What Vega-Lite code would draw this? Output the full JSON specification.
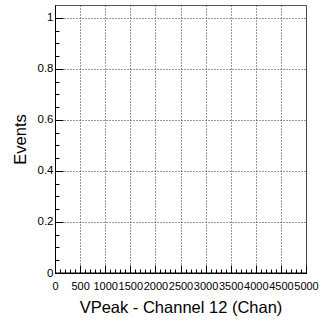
{
  "$schema": "https://vega.github.io/schema/vega-lite/v6.json",
  "width": 251,
  "height": 268,
  "autosize": {"type": "none"},
  "padding": {"left": 55, "top": 5, "right": 14, "bottom": 50},
  "background": "white",
  "config": {
    "view": {"stroke": "#555", "strokeWidth": 1},
    "axis": {
      "labelFont": "Liberation Sans",
      "titleFont": "Liberation Sans",
      "labelColor": "#000",
      "titleColor": "#000",
      "titleFontWeight": "normal",
      "domainColor": "#000",
      "tickColor": "#000",
      "labelOverlap": false,
      "labelFlush": false,
      "labelBound": false
    }
  },
  "data": {"values": [{"chan": 0, "events": 0}, {"chan": 5000, "events": 0}]},
  "layer": [
    {
      "mark": {"type": "line", "color": "#000", "strokeWidth": 1},
      "encoding": {
        "x": {
          "field": "chan", "type": "quantitative",
          "scale": {"domain": [0, 5000], "nice": false, "zero": false},
          "axis": {
            "orient": "bottom",
            "values": [0, 500, 1000, 1500, 2000, 2500, 3000, 3500, 4000, 4500, 5000],
            "format": "d",
            "tickSize": -8,
            "labelPadding": 15,
            "labelFontSize": 11,
            "grid": true, "gridDash": [1, 2], "gridColor": "#333", "gridOpacity": 1,
            "title": "VPeak - Channel 12 (Chan)",
            "titleFontSize": 16.5,
            "titleY": 34,
            "titleBaseline": "middle"
          }
        },
        "y": {
          "field": "events", "type": "quantitative",
          "scale": {"domain": [0, 1.05], "nice": false, "zero": false},
          "axis": {
            "orient": "left",
            "values": [0, 0.2, 0.4, 0.6, 0.8, 1],
            "format": "~g",
            "tickSize": -8,
            "labelPadding": 10,
            "labelFontSize": 11.5,
            "grid": true, "gridDash": [1, 2], "gridColor": "#333", "gridOpacity": 1,
            "title": "Events",
            "titleFontSize": 16.5,
            "titleX": -35,
            "titleAlign": "center",
            "titleBaseline": "middle"
          }
        }
      }
    },
    {
      "mark": {"type": "line", "opacity": 0},
      "encoding": {
        "x": {
          "field": "chan", "type": "quantitative",
          "scale": {"domain": [0, 5000], "nice": false, "zero": false},
          "axis": {
            "orient": "bottom",
            "values": [0,100,200,300,400,500,600,700,800,900,1000,1100,1200,1300,1400,1500,1600,1700,1800,1900,2000,2100,2200,2300,2400,2500,2600,2700,2800,2900,3000,3100,3200,3300,3400,3500,3600,3700,3800,3900,4000,4100,4200,4300,4400,4500,4600,4700,4800,4900,5000],
            "tickSize": -4,
            "labels": false, "domain": false, "grid": false, "title": null
          }
        },
        "y": {
          "field": "events", "type": "quantitative",
          "scale": {"domain": [0, 1.05], "nice": false, "zero": false},
          "axis": {
            "orient": "left",
            "values": [0,0.05,0.1,0.15,0.2,0.25,0.3,0.35,0.4,0.45,0.5,0.55,0.6,0.65,0.7,0.75,0.8,0.85,0.9,0.95,1],
            "tickSize": -4,
            "labels": false, "domain": false, "grid": false, "title": null
          }
        }
      }
    }
  ],
  "resolve": {"axis": {"x": "independent", "y": "independent"}}
}
